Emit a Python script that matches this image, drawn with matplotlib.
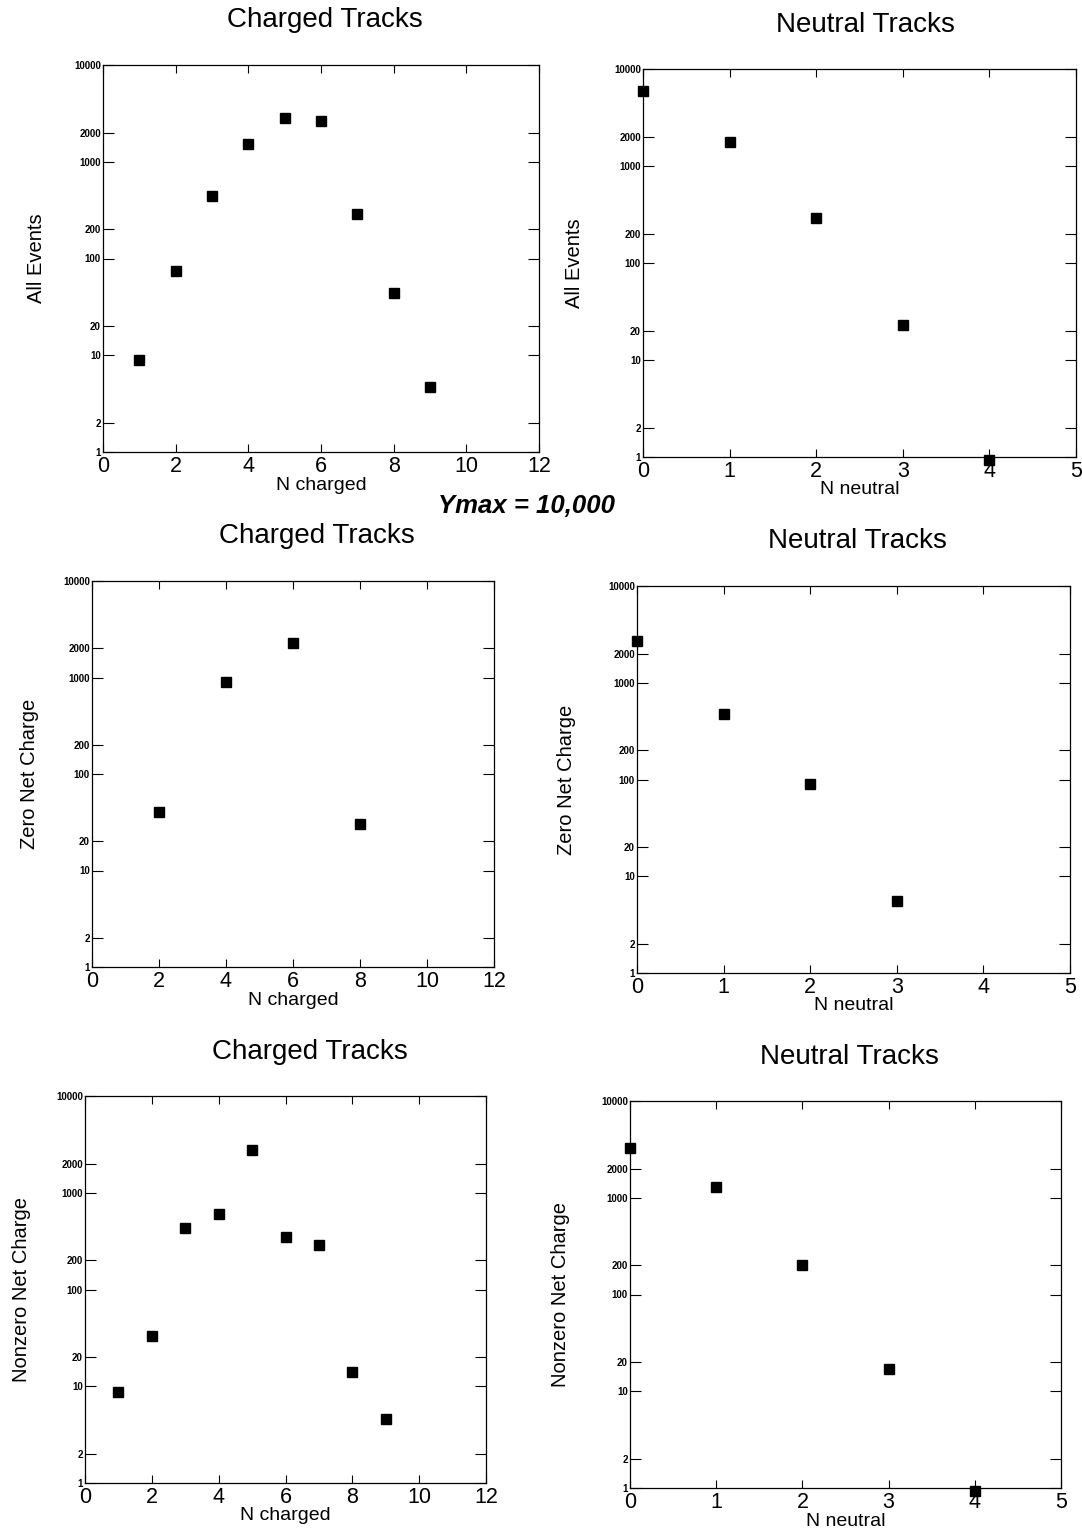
import matplotlib
matplotlib.use("Agg")
import matplotlib.pyplot as plt
from matplotlib.ticker import FixedLocator, FixedFormatter, NullLocator

plt.rcParams['font.family'] = ['Liberation Sans', 'DejaVu Sans']

# Track multiplicity counts
n_charged_all = [1, 2, 3, 4, 5, 6, 7, 8, 9]
events_charged_all = [9, 74, 440, 1510, 2850, 2610, 290, 44, 4.7]

n_neutral_all = [0, 1, 2, 3, 4]
events_neutral_all = [6000, 1760, 290, 23, 0.93]

n_charged_zero = [2, 4, 6, 8]
events_charged_zero = [40, 900, 2260, 30]

n_neutral_zero = [0, 1, 2, 3]
events_neutral_zero = [2700, 480, 90, 5.6]

n_charged_nonzero = [1, 2, 3, 4, 5, 6, 7, 8, 9]
events_charged_nonzero = [8.8, 33, 430, 600, 2790, 350, 285, 14, 4.6]

n_neutral_nonzero = [0, 1, 2, 3, 4]
events_neutral_nonzero = [3300, 1290, 200, 17, 0.93]

y_ticks = [1, 2, 10, 20, 100, 200, 1000, 2000, 10000]
y_tick_labels = ['1', '2', '10', '20', '100', '200', '1000', '2000', '10000']
charged_ticks = [0, 2, 4, 6, 8, 10, 12]
neutral_ticks = [0, 1, 2, 3, 4, 5]

W, H = 1082, 1532
fig = plt.figure(figsize=(W / 100, H / 100), dpi=100)
fig.patch.set_facecolor('white')


def px_axes(l, t, r, b):
    return fig.add_axes([l / W, 1 - b / H, (r - l) / W, (b - t) / H])


def panel(rect, xs, ys, xmax, xticks, title, title_xy, ylabel, ylabel_x,
          xlabel, xlabel_y):
    l, t, r, b = rect
    ax = px_axes(l, t, r, b)
    ax.set_yscale('log')
    ax.set_xlim(0, xmax)
    ax.set_ylim(1, 10000)
    ax.plot(xs, ys, linestyle='none', marker='s', markersize=7,
            color='black', clip_on=False, zorder=5)

    ax.yaxis.set_major_locator(FixedLocator(y_ticks))
    ax.yaxis.set_major_formatter(FixedFormatter(y_tick_labels))
    ax.yaxis.set_minor_locator(NullLocator())
    ax.xaxis.set_major_locator(FixedLocator(xticks))
    ax.xaxis.set_minor_locator(NullLocator())

    ax.tick_params(axis='y', which='major', direction='in', length=8,
                   width=0.8, left=True, right=True, labelsize=7, pad=1.5)
    for lab in ax.get_yticklabels():
        lab.set_fontweight('bold')
    ax.tick_params(axis='x', which='major', direction='in', length=6,
                   width=0.8, top=True, bottom=True, labelsize=15.5, pad=3)
    for sp in ax.spines.values():
        sp.set_linewidth(0.9)
        sp.set_color('black')

    fig.text(title_xy[0] / W, 1 - title_xy[1] / H, title, ha='center',
             va='center', fontsize=20)
    fig.text(ylabel_x / W, 1 - ((t + b) / 2) / H, ylabel, ha='center',
             va='center', rotation=90, fontsize=14.5)
    fig.text(((l + r) / 2) / W, 1 - xlabel_y / H, xlabel, ha='center',
             va='center', fontsize=14)
    return ax


panel((103, 65, 539, 452), n_charged_all, events_charged_all, 12,
      charged_ticks, 'Charged Tracks', (325, 20), 'All Events', 36,
      'N charged', 485)
panel((643, 69, 1076, 457), n_neutral_all, events_neutral_all, 5,
      neutral_ticks, 'Neutral Tracks', (865, 25), 'All Events', 575,
      'N neutral', 490)
panel((92, 581, 494, 967), n_charged_zero, events_charged_zero, 12,
      charged_ticks, 'Charged Tracks', (317, 536), 'Zero Net Charge', 30,
      'N charged', 1000)
panel((637, 586, 1070, 973), n_neutral_zero, events_neutral_zero, 5,
      neutral_ticks, 'Neutral Tracks', (857, 541), 'Zero Net Charge', 566,
      'N neutral', 1006)
panel((85, 1096, 486, 1483), n_charged_nonzero, events_charged_nonzero, 12,
      charged_ticks, 'Charged Tracks', (310, 1052), 'Nonzero Net Charge', 22,
      'N charged', 1515)
panel((630, 1101, 1061, 1488), n_neutral_nonzero, events_neutral_nonzero, 5,
      neutral_ticks, 'Neutral Tracks', (849, 1057), 'Nonzero Net Charge', 560,
      'N neutral', 1521)

fig.text(527 / W, 1 - 506 / H, 'Ymax = 10,000', ha='center', va='center',
         fontsize=18.5, fontweight='bold', fontstyle='italic')

fig.savefig('out.png', dpi=100, facecolor='white')
